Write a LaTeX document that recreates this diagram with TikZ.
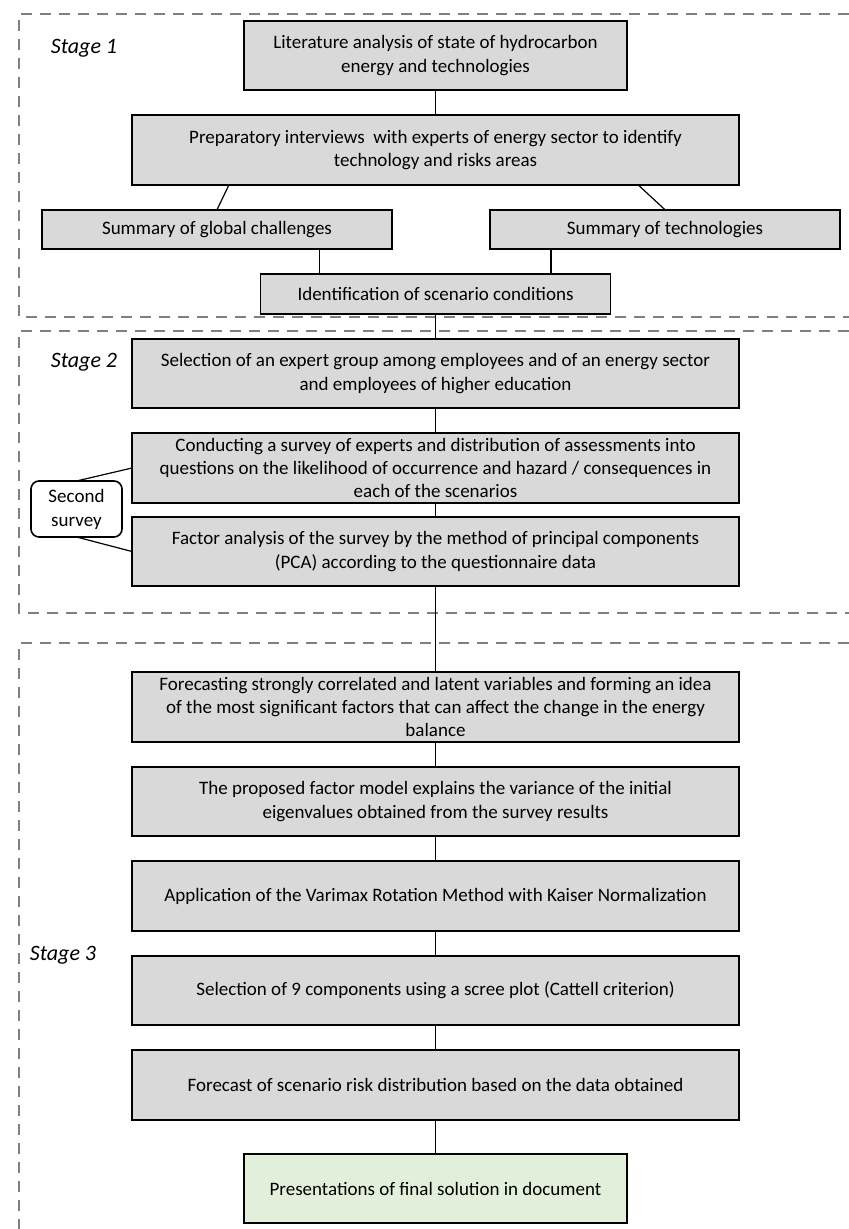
\documentclass[tikz,border=0pt]{standalone}
\usepackage{fontspec}
\setmainfont{Carlito}
\usetikzlibrary{positioning,calc}
\definecolor{boxgray}{HTML}{D9D9D9}
\definecolor{finalgreen}{HTML}{E2EFDA}
\definecolor{framegray}{HTML}{808080}

\begin{document}
\begin{tikzpicture}[x=0.5pt,y=-0.5pt,node distance=12.5pt, box/.style={draw=black,line width=0.8pt,fill=boxgray,align=center,minimum width=303.5pt,minimum height=34.75pt,inner sep=2pt,outer sep=0pt,font=\fontsize{9.5}{11.6}\selectfont},mid/.style={box,minimum width=191.5pt},half/.style={box,minimum width=175pt,minimum height=19.75pt},frame/.style={draw=framegray,line width=1pt,dash pattern=on 5.5pt off 4pt},stagelbl/.style={font=\fontsize{11}{13}\selectfont\itshape},link/.style={draw=black,line width=0.6pt}]
\useasboundingbox (0,0) rectangle (849,1229);
% stage frames
\draw[frame] (849,14) -- (19,14) -- (19,317) -- (849,317);
\draw[frame] (849,331) -- (19,331) -- (19,613) -- (849,613);
\draw[frame] (849,643) -- (19,643) -- (19,1229);
\node[stagelbl] (st1) at (84,48) {Stage 1};
\node[stagelbl] (st2) at (84,362) {Stage 2};
\node[stagelbl] (st3) at (63,955) {Stage 3};
% stage 1
\node[mid] (lit) at (435.5,55.5) {Literature analysis of state of hydrocarbon\\energy and technologies};
\node[box,below=of lit] (prep) {Preparatory interviews\ \ with experts of energy sector to identify\\technology and risks areas};
\node[half,below left=12.5pt and -130pt of prep] (glob) {Summary of global challenges};
\node[half,below right=12.5pt and -124.5pt of prep] (tech) {Summary of technologies};
\node[half,anchor=north] (ident) at ($(glob.south -| prep.south)+(0,25)$) {Identification of scenario conditions};
% stage 2
\node[box,below=of ident] (select) {Selection of an expert group among employees and of an energy sector\\and employees of higher education};
\node[box,below=of select] (conduct) {Conducting a survey of experts and distribution of assessments into\\questions on the likelihood of occurrence and hazard / consequences in\\each of the scenarios};
\node[box,below=7pt of conduct] (factor) {Factor analysis of the survey by the method of principal components\\(PCA) according to the questionnaire data};
\node[draw=black,line width=0.8pt,fill=white,rounded corners=4pt,align=center,minimum width=45.5pt,minimum height=28pt,inner sep=1pt,outer sep=0pt,font=\fontsize{9.5}{12}\selectfont] (second) at (76.5,509) {Second\\survey};
% stage 3
\node[box,below=43pt of factor] (fore) {Forecasting strongly correlated and latent variables and forming an idea\\of the most significant factors that can affect the change in the energy\\balance};
\node[box,below=of fore] (model) {The proposed factor model explains the variance of the initial\\eigenvalues obtained from the survey results};
\node[box,below=of model] (varimax) {Application of the Varimax Rotation Method with Kaiser Normalization};
\node[box,below=of varimax] (scree) {Selection of 9 components using a scree plot (Cattell criterion)};
\node[box,below=of scree] (risk) {Forecast of scenario risk distribution based on the data obtained};
\node[mid,fill=finalgreen,below=17pt of risk] (final) {Presentations of final solution in document};
% connectors
\path ($(ident.north west)+(59,0)$) coordinate (gi) ($(tech.south west)+(61,0)$) coordinate (ti);
\draw[link] (lit)--(prep);\draw[link] ([xshift=48.5pt]prep.south west)--(glob.north);\draw[link] ([xshift=-50.5pt]prep.south east)--(tech.north);\draw[link] (gi|-glob.south)--(gi);\draw[link] (ti)--(ti|-ident.north);
\draw[link] (ident)--(select);\draw[link] (select)--(conduct);\draw[link] (conduct)--(factor);\draw[link] (second.north)--(conduct.west);\draw[link] (second.south)--(factor.west);
\draw[link] (factor)--(fore);\draw[link] (fore)--(model);\draw[link] (model)--(varimax);\draw[link] (varimax)--(scree);\draw[link] (scree)--(risk);\draw[link] (risk)--(final);
\end{tikzpicture}
\end{document}
